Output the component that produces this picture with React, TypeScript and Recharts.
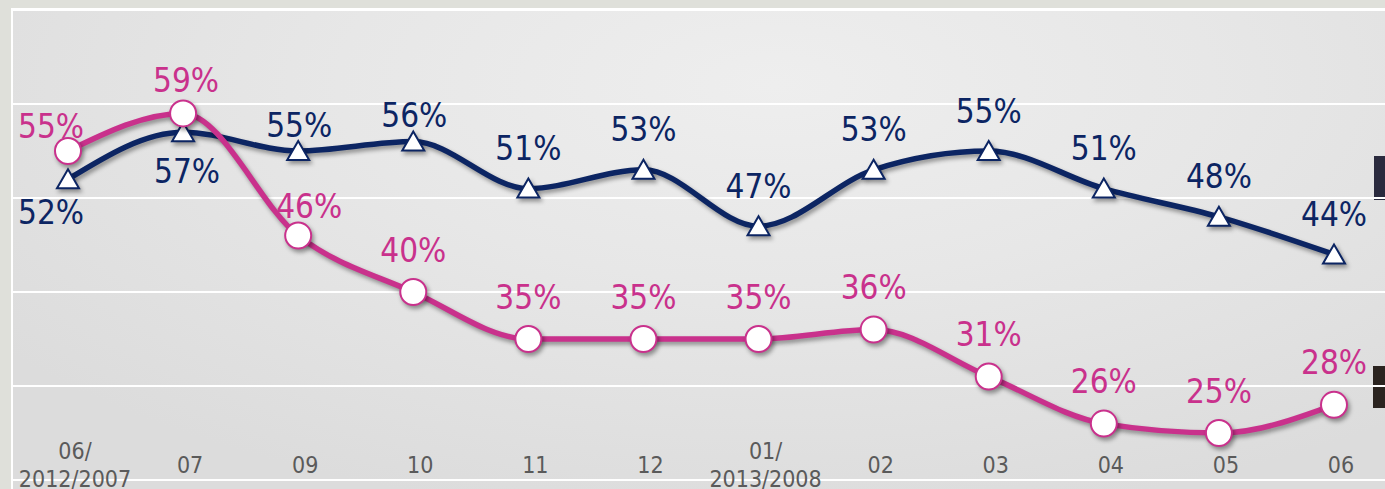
import { CartesianGrid, LabelList, Line, LineChart, XAxis, YAxis } from "recharts"

const months = ["06/\n2012/2007", "07", "09", "10", "11", "12", "01/\n2013/2008", "02", "03", "04", "05", "06"]
const navySeries = [52, 57, 55, 56, 51, 53, 47, 53, 55, 51, 48, 44]
const pinkSeries = [55, 59, 46, 40, 35, 35, 35, 36, 31, 26, 25, 28]
const yTicks = [20, 30, 40, 50, 60, 70]

const data = months.map((month, i) => ({ month, navy: navySeries[i], pink: pinkSeries[i] }))

const NAVY = "#0c2563"
const PINK = "#c9318c"
const FONT = '"DejaVu Sans Condensed", "Liberation Sans", sans-serif'

// label placement tweaks per point (dx, dy of label centre from the point)
const labelShift: Record<string, Record<number, [number, number]>> = {
  navy: { 0: [-17, 33], 1: [4, 39], 2: [1, -26], 3: [1, -26] },
  pink: { 0: [-17, -25], 1: [3, -33], 2: [11, -29] },
}

function makeLabel(key: string, color: string, defaultDy: number) {
  return (props: any) => {
    const { x, y, value, index } = props
    const [dx, dy] = labelShift[key][index] ?? [0, defaultDy]
    return (
      <text
        x={x + dx}
        y={y + dy}
        textAnchor="middle"
        dominantBaseline="central"
        fill={color}
        fontSize={33}
        fontFamily={FONT}
        style={{ fontStretch: "condensed" }}
      >
        {value}%
      </text>
    )
  }
}

function MonthTick({ x, y, payload }: any) {
  const lines = String(payload.value).split("\n")
  const tx = x + 7
  return (
    <text textAnchor="middle" fill="#5a5a5a" fontSize={23} fontFamily={FONT} style={{ fontStretch: "condensed" }}>
      {lines.map((l, i) => (
        <tspan key={i} x={tx} y={y - 7 + (i - (lines.length - 1) / 2) * 28}>
          {l}
        </tspan>
      ))}
    </text>
  )
}

function TriangleDot(props: any) {
  const { cx, cy, index } = props
  if (cx == null || cy == null) return <g key={index} />
  return (
    <path
      key={index}
      d={`M${cx},${cy - 10} L${cx + 11},${cy + 9} L${cx - 11},${cy + 9} Z`}
      fill="#fff"
      stroke={NAVY}
      strokeWidth={2}
      strokeLinejoin="miter"
    />
  )
}

export default function App() {
  return (
    <div style={{ position: "relative", width: 1385, height: 489, overflow: "hidden", background: "#dfe0da" }}>
      <style>{`
        body { margin: 0; }
        .recharts-line-curve, .recharts-line-dots { filter: drop-shadow(2px 3px 2px rgba(0,0,0,0.38)); }
      `}</style>
      <div
        style={{
          position: "absolute",
          left: 11,
          top: 8,
          width: 1385,
          height: 489,
          borderTop: "3px solid #fff",
          borderLeft: "2px solid #fff",
          background: "radial-gradient(ellipse 70% 90% at 55% 15%, #eeeeee 0%, #e7e7e7 45%, #dcdcdc 100%)",
        }}
      />
      <div style={{ position: "absolute", left: 1374, top: 156, width: 12, height: 44, background: "#2a2a3e" }} />
      <div style={{ position: "absolute", left: 1373, top: 366, width: 12, height: 42, background: "#2b2420" }} />
      <div style={{ position: "absolute", left: 0, top: 0 }}>
        <LineChart width={1385} height={489} data={data} margin={{ top: 10, right: 0, bottom: 8, left: 13 }}>
          <CartesianGrid horizontal vertical={false} stroke="#ffffff" strokeWidth={2} />
          <YAxis hide domain={[20, 70]} ticks={yTicks} />
          <XAxis
            dataKey="month"
            height={1}
            axisLine={false}
            tickLine={false}
            tickSize={0}
            tickMargin={0}
            interval={0}
            padding={{ left: 55, right: 51 }}
            tick={<MonthTick />}
          />
          <Line
            type="monotone"
            dataKey="navy"
            stroke={NAVY}
            strokeWidth={5.5}
            dot={TriangleDot}
            activeDot={false}
            isAnimationActive={false}
          >
            <LabelList dataKey="navy" content={makeLabel("navy", NAVY, -40)} />
          </Line>
          <Line
            type="monotone"
            dataKey="pink"
            stroke={PINK}
            strokeWidth={5.5}
            dot={{ r: 13, fill: "#fff", stroke: PINK, strokeWidth: 2 }}
            activeDot={false}
            isAnimationActive={false}
          >
            <LabelList dataKey="pink" content={makeLabel("pink", PINK, -42)} />
          </Line>
        </LineChart>
      </div>
    </div>
  )
}
